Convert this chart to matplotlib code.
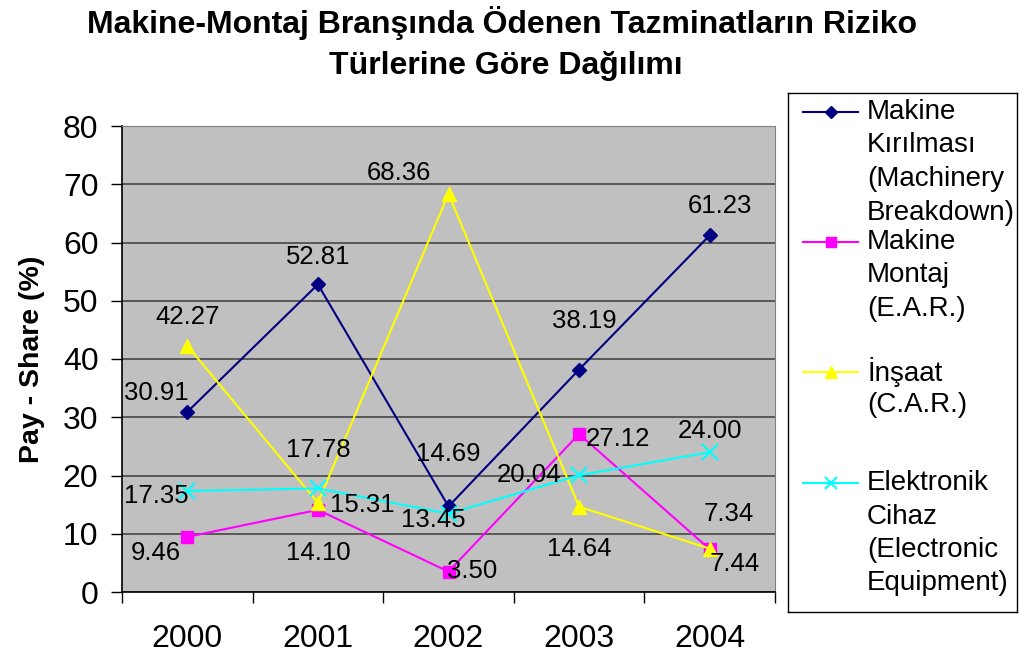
import matplotlib.pyplot as plt
from matplotlib.lines import Line2D

plt.rcParams['font.family'] = ['Liberation Sans', 'DejaVu Sans']

years = ['2000', '2001', '2002', '2003', '2004']
kirilma = [30.91, 52.81, 14.69, 38.19, 61.23]
montaj = [9.46, 14.10, 3.50, 27.12, 7.34]
insaat = [42.27, 15.31, 68.36, 14.64, 7.44]
elektronik = [17.35, 17.78, 13.45, 20.04, 24.00]

legend_labels = [
    ['Makine', 'Kırılması', '(Machinery', 'Breakdown)'],
    ['Makine', 'Montaj', '(E.A.R.)'],
    ['İnşaat', '(C.A.R.)'],
    ['Elektronik', 'Cihaz', '(Electronic', 'Equipment)'],
]

# style per series: color, marker, size
styles = [
    ('#000080', 'D', 7),
    ('#FF00FF', 's', 8),
    ('#FFFF00', '^', 10),
    ('#00FFFF', 'x', 11),
]

# label offsets in pixels (dx, dy) for every point
offsets = [
    [(-31, 19), (0, 27), (0, 52), (5, 49), (10, 29)],
    [(-31, -16), (0, -43), (24, 1), (39, -5), (19, 35)],
    [(0, 29), (44, -2), (-50, 21), (0, -42), (25, -15)],
    [(-31, -5), (0, 38), (-15, -6), (-50, 0), (0, 21)],
]

series = [kirilma, montaj, insaat, elektronik]

fig = plt.figure(figsize=(10.19, 6.57), dpi=100)
ax = fig.add_axes([122 / 1019, 1 - 592 / 657, 653 / 1019, 466 / 657])
ax.set_facecolor('#C0C0C0')

x = range(len(years))
for vals, (col, mk, ms), offs in zip(series, styles, offsets):
    ax.plot(x, vals, color=col, marker=mk, markersize=ms, lw=1.5,
            mew=1.5 if mk == 'x' else 1, clip_on=False)
    for xi, v, (dx, dy) in zip(x, vals, offs):
        ax.annotate(f'{v:.2f}', (xi, v), xytext=(dx, dy), textcoords='offset pixels',
                    ha='center', va='center', fontsize=18.5, color='black')

ax.set_xlim(-0.5, 4.5)
ax.set_ylim(0, 80)
ax.set_yticks(range(0, 81, 10))
ax.set_xticks(list(x))
ax.set_xticklabels(years)
ax.set_xticks([i - 0.5 for i in range(len(years) + 1)], minor=True)
ax.tick_params(axis='x', which='major', length=0, labelsize=23, pad=23)
ax.tick_params(axis='x', which='minor', length=8, width=1, direction='out')
ax.tick_params(axis='y', length=8, width=1, direction='out', labelsize=23, pad=9)
ax.yaxis.grid(True, color='#505050', lw=1.3)
ax.set_axisbelow(True)
for side in ['top', 'right']:
    ax.spines[side].set_color('#808080')
for side in ['left', 'bottom']:
    ax.spines[side].set_color('black')
    ax.spines[side].set_linewidth(1.2)

ax.set_ylabel('Pay - Share (%)', fontsize=20.5, fontweight='bold', labelpad=13)

fig.text(0.493, 1 - 23 / 657, 'Makine-Montaj Branşında Ödenen Tazminatların Riziko',
         ha='center', va='center', fontsize=23, fontweight='bold')
fig.text(0.496, 1 - 66 / 657, 'Türlerine Göre Dağılımı',
         ha='center', va='center', fontsize=23, fontweight='bold')

# legend drawn by hand so the line spacing matches
lax = fig.add_axes([788 / 1019, 1 - 612 / 657, 229 / 1019, 519 / 657])
lax.set_xlim(788, 1017)
lax.set_ylim(612, 93)
lax.set_xticks([])
lax.set_yticks([])
for sp in lax.spines.values():
    sp.set_color('black')
    sp.set_linewidth(1)
entry_y = [112, 242, 372, 483]
line_gap = 33.5
for (col, mk, ms), lines, y0 in zip(styles, legend_labels, entry_y):
    lax.add_line(Line2D([803, 830.5, 858], [y0, y0, y0], color=col, lw=1.5,
                        marker=mk, markersize=ms * 0.85, markevery=[1],
                        mew=1.5 if mk == 'x' else 1))
    for k, txt in enumerate(lines):
        lax.text(867, y0 + k * line_gap, txt, ha='left', va='center', fontsize=20)

fig.savefig('out.png', dpi=100)
